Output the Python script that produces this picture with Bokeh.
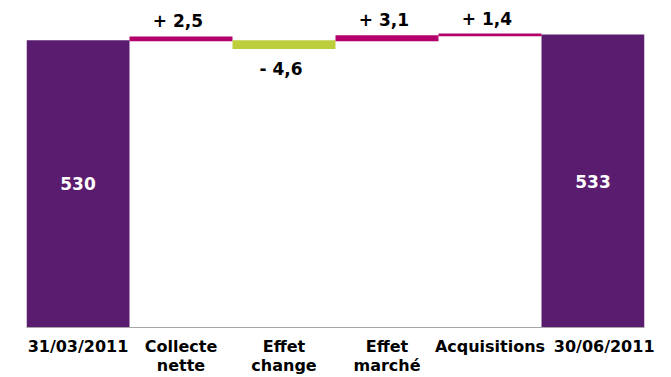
from bokeh.plotting import figure
from bokeh.models import Range1d, FactorRange, ColumnDataSource
from bokeh.core.properties import value
from bokeh.embed import file_html
from bokeh.resources import INLINE

NBSP = "\u00a0"
# ---- data ----
categories = ["31/03/2011", "Collecte\nnette", "Effet\nchange", "Effet\nmarché", "Acquisitions",
              NBSP * 4 + "30/06/2011"]
total_values = [530, 533]
total_labels = ["530", "533"]
change_values = [2.5, -4.6, 3.1, 1.4]
change_labels = ["+ 2,5", "- 4,6", "+ 3,1", "+ 1,4"]
change_start = [529.5, 530.0, 529.5, 532.1]   # level each step bar starts from
axis_min = 378
axis_max = 551

PURPLE = "#5a1c6e"
MAGENTA = "#b4006a"
GREEN = "#bdce3c"
FONT = "DejaVu Sans"

total_cats = [categories[0], categories[-1]]
change_cats = categories[1:5]

p = figure(x_range=FactorRange(factors=categories, range_padding=0),
           y_range=Range1d(axis_min, axis_max),
           width=671, height=377, output_backend="svg", toolbar_location=None,
           y_axis_location=None,
           min_border_left=26, min_border_right=27, min_border_top=0, min_border_bottom=46)
p.outline_line_color = None
p.grid.visible = False

# totals
tot_src = ColumnDataSource(dict(x=total_cats, top=total_values, bottom=[axis_min] * 2,
                                mid=[(axis_min + v) / 2 for v in total_values], label=total_labels))
p.vbar(x="x", top="top", bottom="bottom", width=1.0, source=tot_src, color=PURPLE, line_width=0)
p.text(x="x", y="mid", text="label", source=tot_src, text_color="white",
       text_font=value(FONT), text_font_style="bold", text_font_size="17px",
       text_align="center", text_baseline="middle")

# changes
ends = [s + v for s, v in zip(change_start, change_values)]
colors = [MAGENTA if v >= 0 else GREEN for v in change_values]
chg_src = ColumnDataSource(dict(x=change_cats, bottom=change_start, top=ends, color=colors,
                                label=change_labels))
p.vbar(x="x", top="top", bottom="bottom", width=1.0, source=chg_src, color="color", line_width=0)

pos = [i for i, v in enumerate(change_values) if v >= 0]
neg = [i for i, v in enumerate(change_values) if v < 0]
pos_src = ColumnDataSource(dict(x=[change_cats[i] for i in pos],
                                y=[max(change_start[i], ends[i]) for i in pos],
                                label=[change_labels[i] for i in pos]))
neg_src = ColumnDataSource(dict(x=[change_cats[i] for i in neg],
                                y=[min(change_start[i], ends[i]) for i in neg],
                                label=[change_labels[i] for i in neg]))
for src, off in ((pos_src, -15), (neg_src, 20)):
    p.text(x="x", y="y", text="label", source=src, text_color="black",
           text_font=value(FONT), text_font_style="bold", text_font_size="17px",
           text_align="center", text_baseline="alphabetic", x_offset=-3, y_offset=off)

ax = p.xaxis[0]
ax.axis_line_color = "#a6a6a6"
ax.axis_line_width = 1
ax.major_tick_line_color = None
ax.minor_tick_line_color = None
ax.major_label_text_font = FONT
ax.major_label_text_font_style = "bold"
ax.major_label_text_font_size = "16px"
ax.major_label_text_line_height = 1.0
ax.major_label_text_color = "black"
ax.major_label_standoff = 3

open("out.html", "w").write(file_html(p, INLINE))
